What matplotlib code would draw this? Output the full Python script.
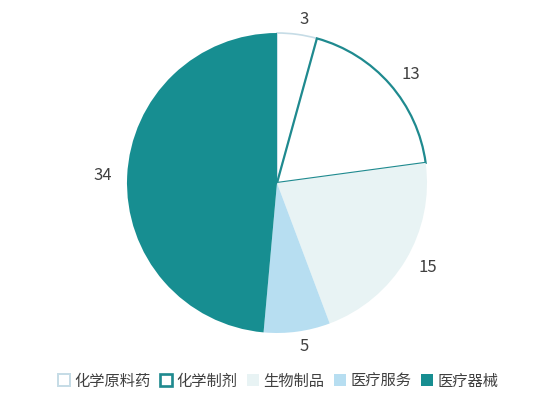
import matplotlib.pyplot as plt
from matplotlib.patches import Patch

plt.rcParams['font.family'] = ['Noto Sans CJK SC', 'DejaVu Sans']

categories = ['化学原料药', '化学制剂', '生物制品', '医疗服务', '医疗器械']
values = [3, 13, 15, 5, 34]
face_colors = ['#ffffff', '#ffffff', '#e8f3f4', '#b7def1', '#178e91']
edge_colors = ['#c6dce6', '#1f8a8f', '#e8f3f4', '#b7def1', '#178e91']
edge_widths = [1.2, 1.6, 0, 0, 0]

fig = plt.figure(figsize=(5.56, 4.07), dpi=100)
ax = fig.add_axes([127 / 556, 74 / 407, 300 / 556, 300 / 407])

wedges, texts = ax.pie(values, startangle=90, counterclock=False,
                       colors=face_colors, labels=[str(v) for v in values],
                       labeldistance=1.1,
                       textprops={'fontsize': 12, 'color': '#404040'})
for w, ec, lw in zip(wedges, edge_colors, edge_widths):
    w.set_edgecolor(ec)
    w.set_linewidth(lw)
ax.set_xlim(-1, 1)
ax.set_ylim(-1, 1)
ax.set_aspect('equal')
ax.axis('off')

handles = [Patch(facecolor=f, edgecolor=e, linewidth=lw * 1.2)
           for f, e, lw in zip(face_colors, edge_colors, edge_widths)]
fig.legend(handles, categories, loc='center', bbox_to_anchor=(0.5, 1 - 381 / 407),
           ncol=5, frameon=False, fontsize=11, handlelength=0.8, handleheight=0.8,
           handletextpad=0.3, columnspacing=0.6, labelcolor='#404040')

fig.savefig('out.png', dpi=100)
